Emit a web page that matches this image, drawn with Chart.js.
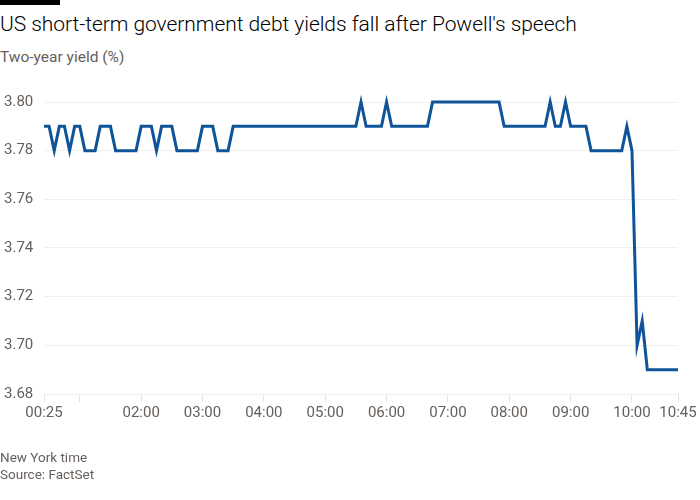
<!DOCTYPE html>
<html>
<head>
<meta charset="utf-8">
<script src="https://cdn.jsdelivr.net/npm/chart.js@4/dist/chart.umd.min.js"></script>
<style>
    body { margin: 0; background: #fff; font-family: Roboto, sans-serif; }
    #wrap { position: relative; width: 700px; height: 500px; overflow: hidden; }
    .topbar { position: absolute; left: 0; top: 0; width: 60px; height: 5px; background: #000; }
    h1 { position: absolute; left: 0; top: 12px; margin: 0; font-weight: 300; font-size: 21px; color: #000; letter-spacing: -0.05px; white-space: nowrap; }
    .sub { position: absolute; left: 0; top: 48px; font-size: 15.5px; color: #66605c; }
    .foot { position: absolute; left: 0; top: 449px; font-size: 13.5px; line-height: 17px; color: #66605c; }
    canvas { position: absolute; left: 0; top: 0; }
</style>
</head>
<body>
<div id="wrap">
    <div class="topbar"></div>
    <h1>US short-term government debt yields fall after Powell's speech</h1>
    <div class="sub">Two-year yield (%)</div>
    <canvas id="chart" width="700" height="500"></canvas>
    <div class="foot">New York time<br>Source: FactSet</div>
</div>
<script>
// minutes after midnight, New York time
var startMinute = 25;   // 00:25
var stepMinutes = 5;

// two-year yield, one reading every 5 minutes from 00:25 to 10:45
var yields = [
    3.79, 3.79, 3.78, 3.79, 3.79, 3.78, 3.79, 3.79, 3.78, 3.78, 3.78, 3.79,
    3.79, 3.79, 3.78, 3.78, 3.78, 3.78, 3.78, 3.79, 3.79, 3.79, 3.78, 3.79,
    3.79, 3.79, 3.78, 3.78, 3.78, 3.78, 3.78, 3.79, 3.79, 3.79, 3.78, 3.78,
    3.78, 3.79, 3.79, 3.79, 3.79, 3.79, 3.79, 3.79, 3.79, 3.79, 3.79, 3.79,
    3.79, 3.79, 3.79, 3.79, 3.79, 3.79, 3.79, 3.79, 3.79, 3.79, 3.79, 3.79,
    3.79, 3.79, 3.80, 3.79, 3.79, 3.79, 3.79, 3.80, 3.79, 3.79, 3.79, 3.79,
    3.79, 3.79, 3.79, 3.79, 3.80, 3.80, 3.80, 3.80, 3.80, 3.80, 3.80, 3.80,
    3.80, 3.80, 3.80, 3.80, 3.80, 3.80, 3.79, 3.79, 3.79, 3.79, 3.79, 3.79,
    3.79, 3.79, 3.79, 3.80, 3.79, 3.79, 3.80, 3.79, 3.79, 3.79, 3.79, 3.78,
    3.78, 3.78, 3.78, 3.78, 3.78, 3.78, 3.79, 3.78, 3.70, 3.71, 3.69, 3.69,
    3.69, 3.69, 3.69, 3.69, 3.69
];

// x axis ticks (minutes after midnight) and their labels
var xTickMinutes = [25, 60, 120, 180, 240, 300, 360, 420, 480, 540, 600, 645];
var xTickLabels = ["00:25", "", "02:00", "03:00", "04:00", "05:00", "06:00", "07:00", "08:00", "09:00", "10:00", "10:45"];

// y axis
var yMin = 3.68;
var yMax = 3.80;
var yStep = 0.02;

var points = yields.map(function (v, i) {
    return { x: startMinute + i * stepMinutes, y: v };
});

var grey = "#66605c";
var tickFont = { family: "Roboto, sans-serif", size: 15 };

new Chart(document.getElementById("chart").getContext("2d"), {
    type: "line",
    data: {
        datasets: [{
            data: points,
            borderColor: "#0f5499",
            borderWidth: 3,
            pointRadius: 0,
            tension: 0,
            fill: false,
            clip: false
        }]
    },
    options: {
        responsive: false,
        animation: false,
        layout: { padding: { top: 102, left: 4, right: 22, bottom: 70 } },
        plugins: { legend: { display: false }, tooltip: { enabled: false } },
        scales: {
            x: {
                type: "linear",
                min: startMinute,
                max: xTickMinutes[xTickMinutes.length - 1],
                afterBuildTicks: function (scale) {
                    scale.ticks = xTickMinutes.map(function (m) { return { value: m }; });
                },
                afterFit: function (scale) { scale.height = 36; },
                ticks: {
                    autoSkip: false,
                    maxRotation: 0,
                    padding: 2,
                    color: grey,
                    font: tickFont,
                    callback: function (value, index) { return xTickLabels[index]; }
                },
                grid: { drawOnChartArea: false, tickLength: 8, color: "#e3e3e3" },
                border: { display: false }
            },
            y: {
                min: yMin,
                max: yMax,
                afterFit: function (scale) { scale.width = 40; },
                ticks: {
                    stepSize: yStep,
                    crossAlign: "far",
                    padding: 0,
                    color: grey,
                    font: tickFont,
                    callback: function (value) { return value.toFixed(2); }
                },
                grid: { drawTicks: false, color: "#efefef" },
                border: { display: false }
            }
        }
    }
});
</script>
</body>
</html>
